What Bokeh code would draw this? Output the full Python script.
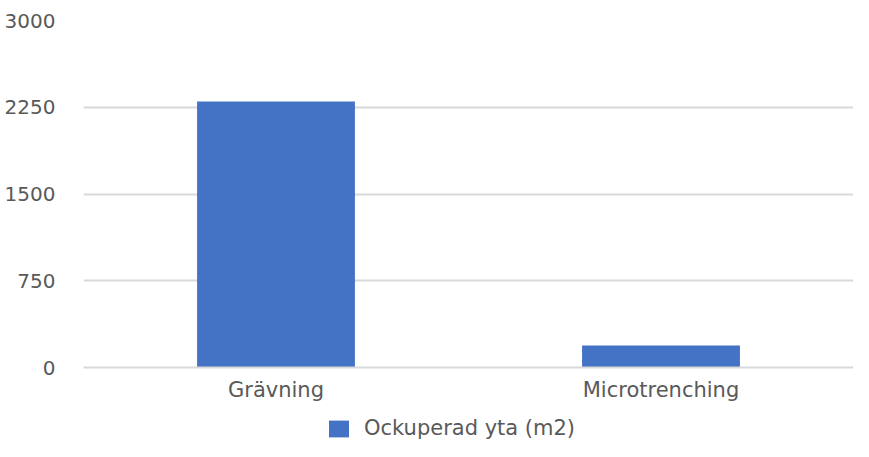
from bokeh.plotting import figure
from bokeh.layouts import column
from bokeh.models import ColumnDataSource, FactorRange, Legend, LegendItem, FixedTicker
from bokeh.embed import file_html
from bokeh.resources import INLINE

categories = ["Grävning", "Microtrenching"]
values = [2300, 190]
series_name = "Ockuperad yta (m2)"
y_ticks = [0, 750, 1500, 2250, 3000]

FONT = "DejaVu Sans"
TXT = "#595959"
BAR = "#4472C4"
GRID = "#D9D9D9"

src = ColumnDataSource(dict(cat=categories, val=values))

p = figure(x_range=FactorRange(*categories, range_padding=0.0),
           y_range=(0, 3000), width=853, height=404,
           output_backend="svg", toolbar_location=None,
           min_border_left=83, min_border_right=0, min_border_top=20,
           min_border_bottom=33)
p.title.visible = False

r = p.vbar(x="cat", top="val", width=0.41, source=src, color=BAR, line_color=None)

p.outline_line_color = None
p.background_fill_color = "white"
p.border_fill_color = "white"

p.yaxis.ticker = FixedTicker(ticks=y_ticks)
p.yaxis.axis_line_color = None
p.yaxis.major_tick_line_color = None
p.yaxis.minor_tick_line_color = None
p.yaxis.major_label_standoff = 22
p.yaxis.major_label_text_font = FONT
p.yaxis.major_label_text_font_size = "20px"
p.yaxis.major_label_text_color = TXT

p.xaxis.axis_line_color = GRID
p.xaxis.axis_line_width = 2
p.xaxis.major_tick_line_color = None
p.xaxis.minor_tick_line_color = None
p.xaxis.major_label_standoff = 4
p.xaxis.major_label_text_font = FONT
p.xaxis.major_label_text_font_size = "21px"
p.xaxis.major_label_text_color = TXT

p.xgrid.grid_line_color = None
p.ygrid.grid_line_color = GRID
p.ygrid.grid_line_width = 2

# Legend strip below the chart
p2 = figure(x_range=p.x_range, y_range=p.y_range, width=853, height=37,
            output_backend="svg", toolbar_location=None, min_border=0)
p2.title.visible = False
p2.xaxis.visible = False
p2.yaxis.visible = False
p2.xgrid.grid_line_color = None
p2.ygrid.grid_line_color = None
p2.outline_line_color = None
p2.background_fill_color = "white"
p2.border_fill_color = "white"
r2 = p2.vbar(x="cat", top="val", width=0.41, source=src, color=BAR,
             line_color=None, visible=False)

legend = Legend(items=[LegendItem(label=series_name, renderers=[r2])],
                location=(243, 1), orientation="horizontal",
                label_text_font=FONT, label_text_font_size="21px",
                label_text_color=TXT, glyph_width=25, glyph_height=21,
                label_standoff=13, border_line_color=None,
                background_fill_alpha=0, padding=0, margin=0,
                inactive_fill_alpha=0)
p2.add_layout(legend, "center")

layout = column(p, p2, spacing=0)
open("out.html", "w").write(file_html(layout, INLINE))
